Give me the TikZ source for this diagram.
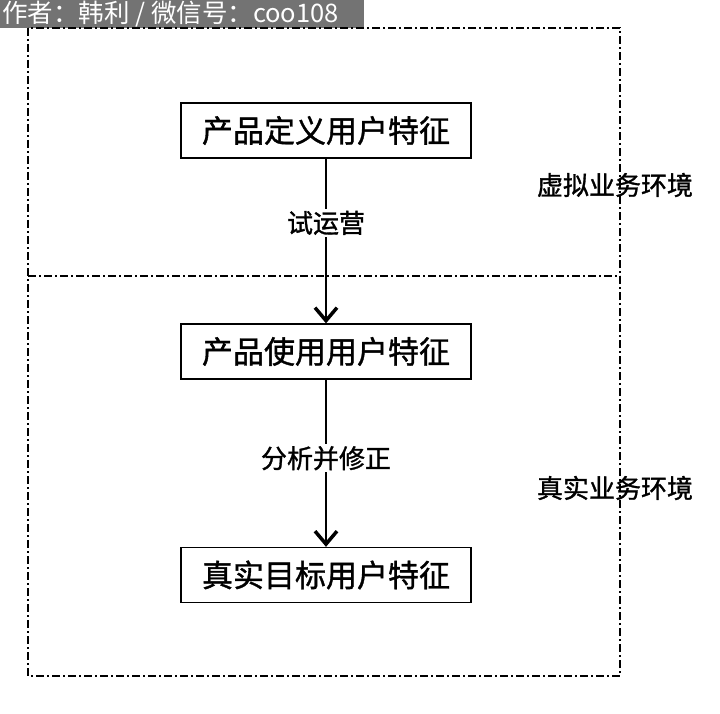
\documentclass[tikz,border=0pt]{standalone}
\usepackage{fontspec}
\setmainfont{Noto Sans CJK SC}
\newfontfamily\semib[FakeBold=1.2]{Noto Sans CJK SC}
\usetikzlibrary{arrows.meta}
\begin{document}
\begin{tikzpicture}[x=1pt,y=-1pt,
  box/.style={draw,line width=1.3pt,minimum width=290pt,minimum height=55pt,font=\semib\fontsize{31}{34}\selectfont},
  zone/.style={line width=1.2pt,dash pattern=on 8pt off 3pt on 2pt off 3pt},
  arr/.style={line width=1.3pt,-{Straight Barb[length=13pt,width=22pt,line width=3.5pt]}},
  lab/.style={fill=white,font=\semib\fontsize{26}{28}\selectfont,inner sep=2pt},
  side/.style={font=\semib\fontsize{26}{28}\selectfont}]
\useasboundingbox (0,0) rectangle (720,714);
\fill[white] (0,0) rectangle (720,714);
\fill[black!55] (0,0) rectangle (364,28);
\node[white,anchor=west,font=\fontsize{25.5}{28}\selectfont,inner sep=0pt] (author) at (2,14) {作者：韩利 / 微信号：coo108};
\draw[zone] (28,28) rectangle (620,676);
\draw[zone] (28,276) -- (620,276);
\node[box] (b1) at (326,130.5) {产品定义用户特征};
\node[box] (b2) at (326,351.5) {产品使用用户特征};
\node[box] (b3) at (326,575) {真实目标用户特征};
\draw[arr] (b1) -- node[lab,pos=0.39] (l1) {试运营} (b2);
\draw[arr] (b2) -- node[lab,pos=0.47] (l2) {分析并修正} (b3);
\node[side] (s1) at (615,185) {虚拟业务环境};
\node[side] (s2) at (615,488) {真实业务环境};
\end{tikzpicture}
\end{document}
